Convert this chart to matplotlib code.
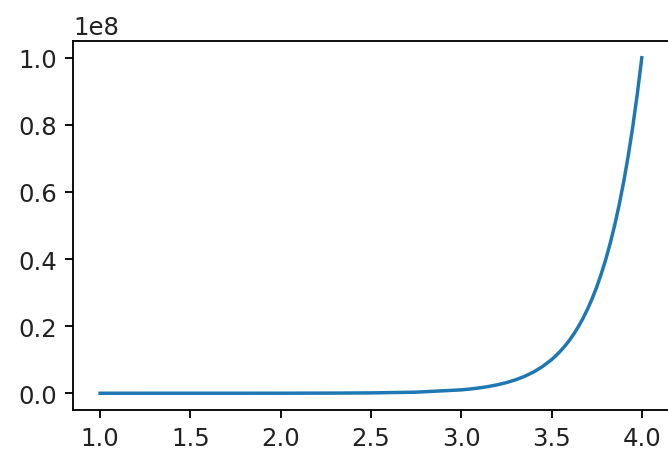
import matplotlib
matplotlib.use("Agg")
import matplotlib.pyplot as plt

x_vals = [1.0, 1.25, 1.5, 1.75, 2.0, 2.25, 2.5, 2.75, 3.0, 3.05, 3.1, 3.15,
          3.2, 3.25, 3.3, 3.35, 3.4, 3.45, 3.5, 3.525, 3.55, 3.575, 3.6,
          3.625, 3.65, 3.675, 3.7, 3.725, 3.75, 3.775, 3.8, 3.825, 3.85,
          3.875, 3.9, 3.925, 3.95, 3.975, 4.0]
y_vals = [1e2, 3.16e2, 1e3, 3.16e3, 1e4, 3.16e4, 1e5, 3.16e5, 1.0e6, 1.259e6,
          1.585e6, 1.995e6, 2.512e6, 3.162e6, 3.981e6, 5.012e6, 6.31e6,
          7.943e6, 1.0e7, 1.122e7, 1.259e7, 1.413e7, 1.585e7, 1.778e7,
          1.995e7, 2.239e7, 2.512e7, 2.818e7, 3.162e7, 3.548e7, 3.981e7,
          4.467e7, 5.012e7, 5.623e7, 6.31e7, 7.079e7, 7.943e7, 8.913e7, 1.0e8]

plt.rcParams['font.size'] = 10.6
DPI = 166
fig = plt.figure(figsize=(668 / DPI, 454 / DPI), dpi=DPI)
ax = fig.add_axes([0.1093, 0.0947, 0.892, 0.8128])
ax.plot(x_vals, y_vals, color='#1f77b4')
ax.set_xticks([1.0, 1.5, 2.0, 2.5, 3.0, 3.5, 4.0])
ax.tick_params(labelcolor='#222222')
fig.savefig("out.png", dpi=DPI)
